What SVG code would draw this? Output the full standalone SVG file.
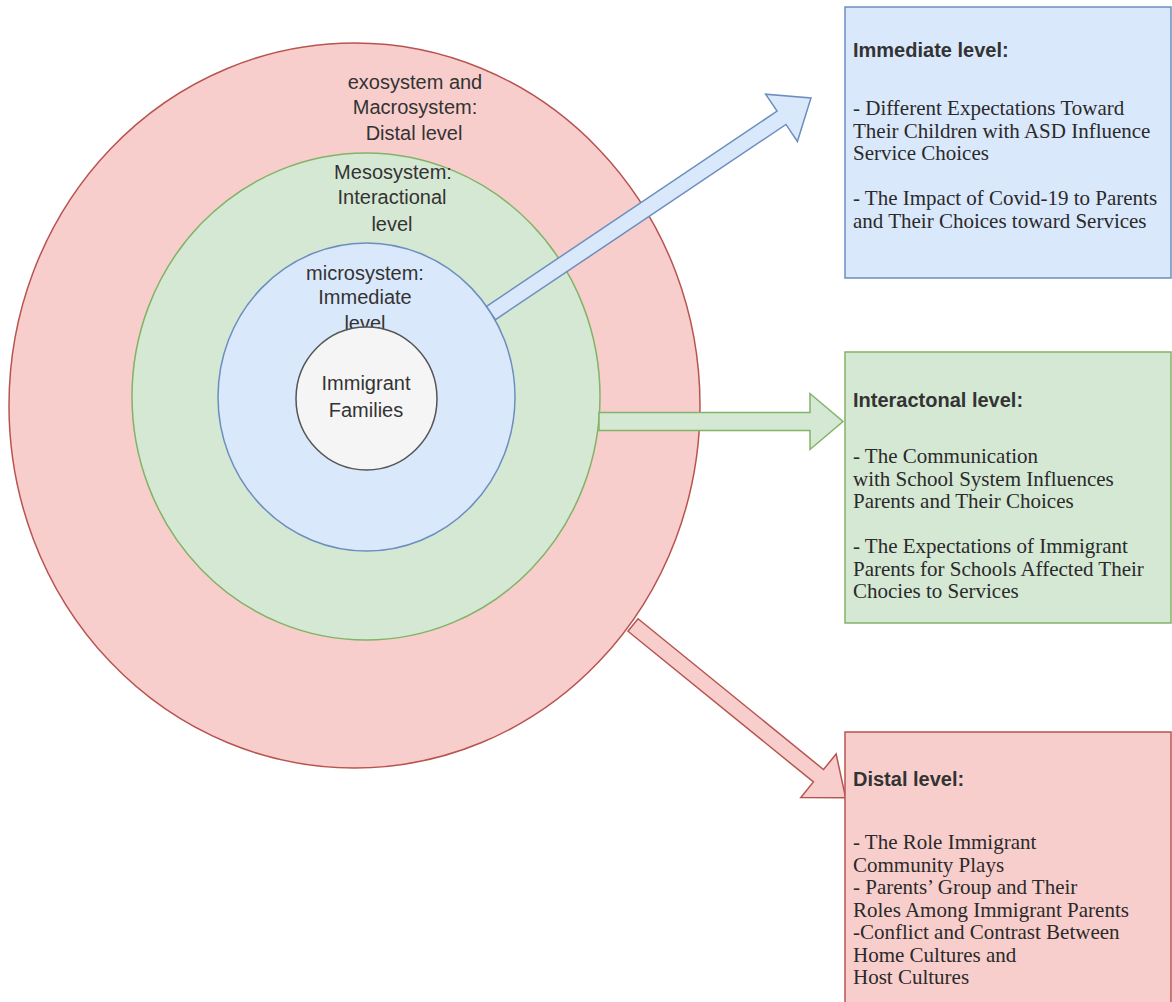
<svg xmlns="http://www.w3.org/2000/svg" width="1172" height="1002" viewBox="0 0 1172 1002">
  <style>
    .ring { stroke-width: 1.5; }
    .red { fill: #f8cecc; stroke: #b85450; }
    .green { fill: #d5e8d4; stroke: #82b366; }
    .blue { fill: #dae8fc; stroke: #6c8ebf; }
    .core { fill: #f5f5f5; stroke: #555555; }
    .lbl { font-family: "Liberation Sans", Arial, sans-serif; font-size: 20px; fill: #333333; text-anchor: middle; }
    .head { font-family: "Liberation Sans", Arial, sans-serif; font-size: 20px; font-weight: bold; fill: #333333; }
    .body { font-family: "Liberation Serif", "Times New Roman", serif; font-size: 21px; fill: #2a2a2a; }
  </style>

  <rect width="1172" height="1002" fill="#ffffff"/>

  <!-- Concentric system levels -->
  <g id="distal-ring">
    <ellipse class="ring red" cx="354.5" cy="405.5" rx="345.5" ry="362.5"/>
    <text class="lbl" x="415" y="89">exosystem and</text>
    <text class="lbl" x="415" y="114">Macrosystem:</text>
    <text class="lbl" x="414" y="140">Distal level</text>
  </g>

  <g id="interactional-ring">
    <ellipse class="ring green" cx="366" cy="396.5" rx="234" ry="243.5"/>
    <text class="lbl" x="393" y="179">Mesosystem:</text>
    <text class="lbl" x="392" y="204">Interactional</text>
    <text class="lbl" x="392" y="231">level</text>
  </g>

  <g id="immediate-ring">
    <ellipse class="ring blue" cx="366.5" cy="397" rx="148.5" ry="154"/>
    <text class="lbl" x="365" y="280">microsystem:</text>
    <text class="lbl" x="365" y="304">Immediate</text>
    <text class="lbl" x="365" y="330">level</text>
  </g>

  <g id="families">
    <ellipse class="ring core" cx="366.5" cy="398.5" rx="70.5" ry="71.5"/>
    <text class="lbl" x="366" y="390">Immigrant</text>
    <text class="lbl" x="366" y="417">Families</text>
  </g>

  <!-- Block arrows from each ring to its description -->
  <g id="connectors" stroke-width="1.5" stroke-linejoin="miter">
    <polygon class="blue" transform="translate(491 313) rotate(-33.9)"
             points="0,-8 350,-8 350,-28.5 385.5,0 350,28.5 350,8 0,8"/>
    <polygon class="green" transform="translate(599 421.5)"
             points="0,-9 211,-9 211,-28 244,0 211,28 211,9 0,9"/>
    <polygon class="red" transform="translate(633 625) rotate(39.1)"
             points="0,-8 239,-8 239,-28 274,0 239,28 239,8 0,8"/>
  </g>

  <!-- Description boxes -->
  <g id="immediate-box">
    <rect class="ring blue" x="845" y="7" width="326" height="271"/>
    <text class="head" x="853" y="57">Immediate level:</text>
    <text class="body" x="853" y="115">- Different Expectations Toward</text>
    <text class="body" x="853" y="137.5">Their Children with ASD Influence</text>
    <text class="body" x="853" y="160">Service Choices</text>
    <text class="body" x="853" y="205">- The Impact of Covid-19 to Parents</text>
    <text class="body" x="853" y="227.5">and Their Choices toward Services</text>
  </g>

  <g id="interactional-box">
    <rect class="ring green" x="845" y="352" width="326" height="271"/>
    <text class="head" x="853" y="407">Interactonal level:</text>
    <text class="body" x="853" y="463">- The Communication</text>
    <text class="body" x="853" y="485.5">with School System Influences</text>
    <text class="body" x="853" y="508">Parents and Their Choices</text>
    <text class="body" x="853" y="553">- The Expectations of Immigrant</text>
    <text class="body" x="853" y="575.5">Parents for Schools Affected Their</text>
    <text class="body" x="853" y="598">Chocies to Services</text>
  </g>

  <g id="distal-box">
    <rect class="ring red" x="845" y="732" width="326" height="290"/>
    <text class="head" x="853" y="786">Distal level:</text>
    <text class="body" x="853" y="849">- The Role Immigrant</text>
    <text class="body" x="853" y="871.5">Community Plays</text>
    <text class="body" x="853" y="894">- Parents’ Group and Their</text>
    <text class="body" x="853" y="916.5">Roles Among Immigrant Parents</text>
    <text class="body" x="853" y="939">-Conflict and Contrast Between</text>
    <text class="body" x="853" y="961.5">Home Cultures and</text>
    <text class="body" x="853" y="984">Host Cultures</text>
  </g>
</svg>
